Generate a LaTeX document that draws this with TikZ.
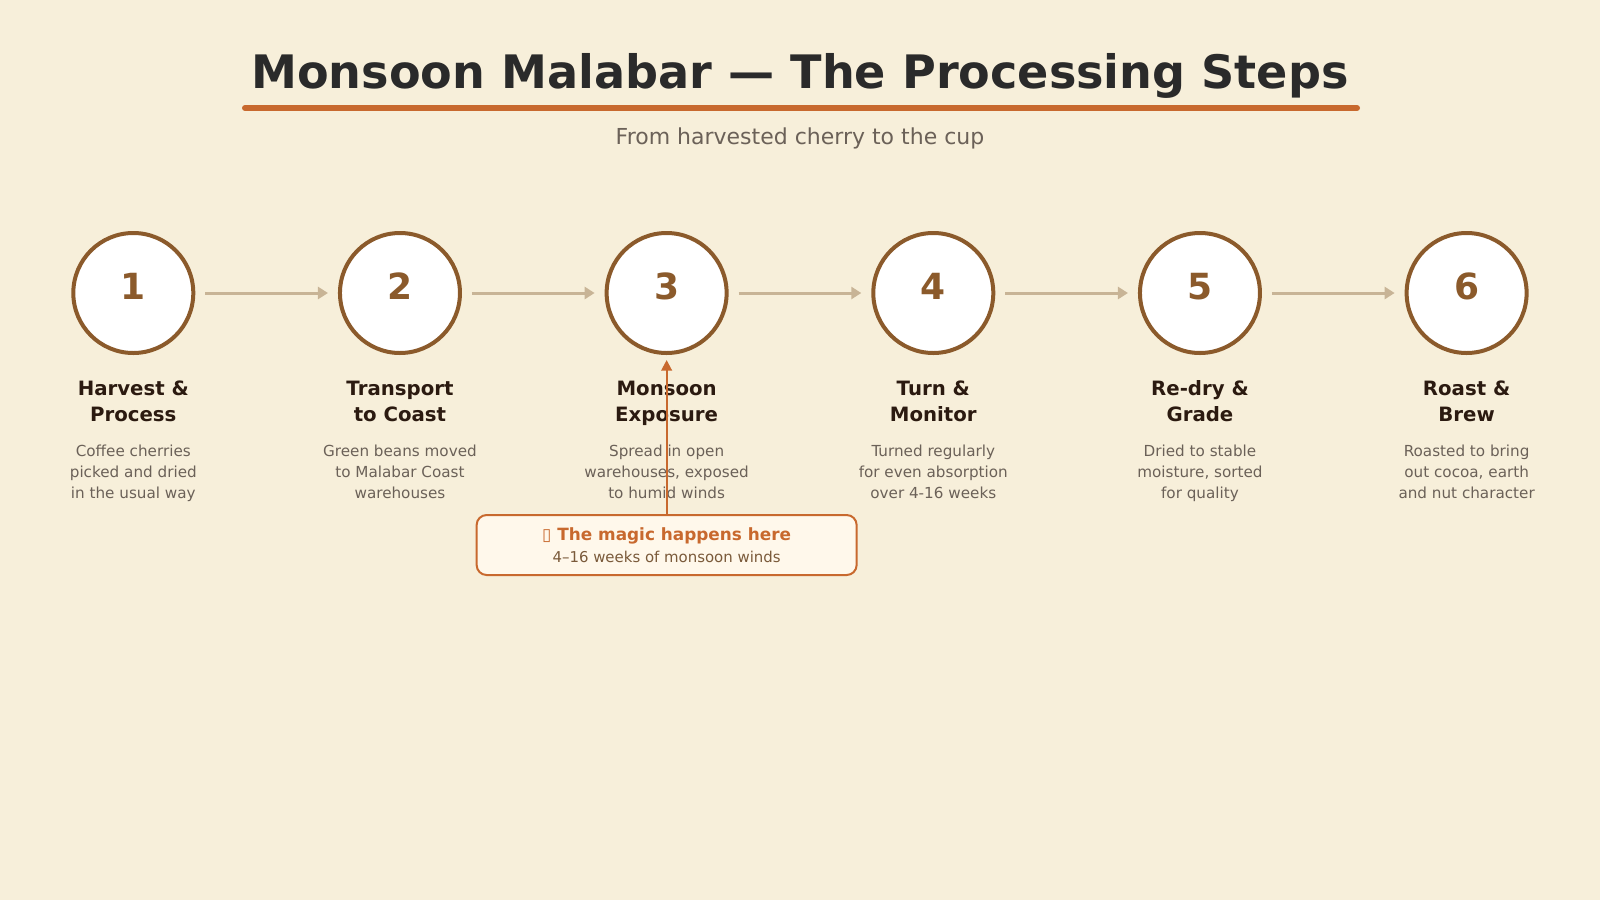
\documentclass[tikz,border=0pt]{standalone}
\usepackage{xcolor}
\usepackage{fontspec}
\setmainfont{DejaVu Sans}
\usepackage{tikz}
\usetikzlibrary{arrows.meta, positioning, calc}
\definecolor{monsoonbg}{HTML}{F7EFDA}
\definecolor{monsoonink}{HTML}{2A2A2A}
\definecolor{monsoonrust}{HTML}{C8692E}
\definecolor{monsoonbean}{HTML}{8B5A2B}
\definecolor{monsoondark}{HTML}{2B1A10}
\definecolor{monsoongrey}{HTML}{6B6158}
\definecolor{monsoontan}{HTML}{C8B496}
\definecolor{monsooncream}{HTML}{FFF8EB}
\definecolor{monsoonmute}{HTML}{7A5A3A}

\begin{document}
\begin{tikzpicture}[x=0.75pt, y=-0.75pt,
        stepnode/.style={circle, draw=monsoonbean, line width=3pt, fill=white, minimum size=90pt, inner sep=0pt, text=monsoonbean, font=\fontsize{27}{27}\selectfont\bfseries},
        steptitle/.style={anchor=north, inner sep=0pt, align=center, text=monsoondark, font=\fontsize{14.8}{19.1}\selectfont\bfseries},
        stepnote/.style={anchor=north, inner sep=0pt, align=center, text=monsoongrey, font=\fontsize{11.4}{15.6}\selectfont},
        flow/.style={-{Triangle[length=7.5pt, width=9pt]}, line width=2.25pt, monsoontan, shorten <=7.5pt, shorten >=7.5pt},
        callout/.style={draw=monsoonrust, line width=1.5pt, fill=monsooncream, rounded corners=7.5pt, minimum width=285pt, minimum height=45pt, align=center, font=\fontsize{11.2}{16.8}\selectfont},
        callarrow/.style={-{Triangle[length=8pt, width=8pt]}, line width=1.5pt, monsoonrust, shorten >=3.75pt}
    ]
    \fill[monsoonbg] (0,0) rectangle (1600,900);
    \useasboundingbox (0,0) rectangle (1600,900);

    % heading
    \node (title) at (800,76) [text=monsoonink, font=\fontsize{34.6}{34.6}\selectfont\bfseries] {Monsoon Malabar — The Processing Steps};
    \draw[monsoonrust, line width=4.5pt, line cap=round] (245,108) -- (1357,108);
    \node (subtitle) at (800,138) [text=monsoongrey, font=\fontsize{16.5}{16.5}\selectfont] {From harvested cherry to the cup};

    % steps
    \node (c1) at (133.3,293) [stepnode] {\raisebox{9.75pt}{1}};
    \node (c2) [stepnode, right=107pt of c1] {\raisebox{9.75pt}{2}};
    \node (c3) [stepnode, right=107pt of c2] {\raisebox{9.75pt}{3}};
    \node (c4) [stepnode, right=107pt of c3] {\raisebox{9.75pt}{4}};
    \node (c5) [stepnode, right=107pt of c4] {\raisebox{9.75pt}{5}};
    \node (c6) [stepnode, right=107pt of c5] {\raisebox{9.75pt}{6}};

    \draw [flow] (c1) -- (c2);
    \draw [flow] (c2) -- (c3);
    \draw [flow] (c3) -- (c4);
    \draw [flow] (c4) -- (c5);
    \draw [flow] (c5) -- (c6);

    \node (t1) at ($(c1)+(0,84.5)$) [steptitle] {\strut Harvest \&\\Process};
    \node (t2) at ($(c2)+(0,84.5)$) [steptitle] {\strut Transport\\to Coast};
    \node (t3) at ($(c3)+(0,84.5)$) [steptitle] {\strut Monsoon\\Exposure};
    \node (t4) at ($(c4)+(0,84.5)$) [steptitle] {\strut Turn \&\\Monitor};
    \node (t5) at ($(c5)+(0,84.5)$) [steptitle] {\strut Re-dry \&\\Grade};
    \node (t6) at ($(c6)+(0,84.5)$) [steptitle] {\strut Roast \&\\Brew};

    \node (d1) at ($(c1)+(0,149)$) [stepnote] {\strut Coffee cherries\\picked and dried\\in the usual way};
    \node (d2) at ($(c2)+(0,149)$) [stepnote] {\strut Green beans moved\\to Malabar Coast\\warehouses};
    \node (d3) at ($(c3)+(0,149)$) [stepnote] {\strut Spread in open\\warehouses, exposed\\to humid winds};
    \node (d4) at ($(c4)+(0,149)$) [stepnote] {\strut Turned regularly\\for even absorption\\over 4-16 weeks};
    \node (d5) at ($(c5)+(0,149)$) [stepnote] {\strut Dried to stable\\moisture, sorted\\for quality};
    \node (d6) at ($(c6)+(0,149)$) [stepnote] {\strut Roasted to bring\\out cocoa, earth\\and nut character};

    % callout
    \node (magic) at ($(c3)+(0,252)$) [callout] {{\fontsize{12.66}{16.8}\selectfont\bfseries\color{monsoonrust}\raisebox{-1.5pt}{▯ The magic happens here}}\\{\color{monsoonmute}\raisebox{-1.5pt}{4–16 weeks of monsoon winds}}};
    \draw [callarrow] (magic.north) -- (c3.south);
\end{tikzpicture}
\end{document}
